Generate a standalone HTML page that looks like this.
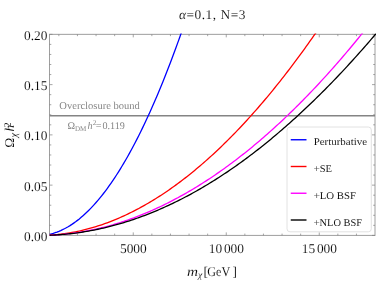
<!DOCTYPE html>
<html><head><meta charset="utf-8"><title>chart</title>
<style>html,body{margin:0;padding:0;background:#fff;overflow:hidden}body{width:376px;height:282px;position:relative;font-family:"Liberation Serif",serif}</style>
</head><body>
<svg width="376" height="282" viewBox="0 0 376 282" style="position:absolute;left:0;top:0;will-change:transform;opacity:0.999">
<defs><clipPath id="c"><rect x="49.50" y="33.55" width="326.50" height="202.35"/></clipPath></defs>
<rect width="376" height="282" fill="#fff"/>
<rect x="49.50" y="34.35" width="325.50" height="201.05" fill="none" stroke="#9e9e9e" stroke-width="1"/>
<path d="M58.85 235.40 v-1.80 M58.85 34.35 v1.80 M77.45 235.40 v-1.80 M77.45 34.35 v1.80 M96.05 235.40 v-1.80 M96.05 34.35 v1.80 M114.65 235.40 v-1.80 M114.65 34.35 v1.80 M133.25 235.40 v-3.00 M133.25 34.35 v3.00 M151.85 235.40 v-1.80 M151.85 34.35 v1.80 M170.45 235.40 v-1.80 M170.45 34.35 v1.80 M189.05 235.40 v-1.80 M189.05 34.35 v1.80 M207.65 235.40 v-1.80 M207.65 34.35 v1.80 M226.25 235.40 v-3.00 M226.25 34.35 v3.00 M244.85 235.40 v-1.80 M244.85 34.35 v1.80 M263.45 235.40 v-1.80 M263.45 34.35 v1.80 M282.05 235.40 v-1.80 M282.05 34.35 v1.80 M300.65 235.40 v-1.80 M300.65 34.35 v1.80 M319.25 235.40 v-3.00 M319.25 34.35 v3.00 M337.85 235.40 v-1.80 M337.85 34.35 v1.80 M356.45 235.40 v-1.80 M356.45 34.35 v1.80 M49.50 235.40 h3.00 M375.00 235.40 h-3.00 M49.50 225.35 h1.80 M375.00 225.35 h-1.80 M49.50 215.30 h1.80 M375.00 215.30 h-1.80 M49.50 205.24 h1.80 M375.00 205.24 h-1.80 M49.50 195.19 h1.80 M375.00 195.19 h-1.80 M49.50 185.14 h3.00 M375.00 185.14 h-3.00 M49.50 175.09 h1.80 M375.00 175.09 h-1.80 M49.50 165.03 h1.80 M375.00 165.03 h-1.80 M49.50 154.98 h1.80 M375.00 154.98 h-1.80 M49.50 144.93 h1.80 M375.00 144.93 h-1.80 M49.50 134.88 h3.00 M375.00 134.88 h-3.00 M49.50 124.82 h1.80 M375.00 124.82 h-1.80 M49.50 114.77 h1.80 M375.00 114.77 h-1.80 M49.50 104.72 h1.80 M375.00 104.72 h-1.80 M49.50 94.66 h1.80 M375.00 94.66 h-1.80 M49.50 84.61 h3.00 M375.00 84.61 h-3.00 M49.50 74.56 h1.80 M375.00 74.56 h-1.80 M49.50 64.51 h1.80 M375.00 64.51 h-1.80 M49.50 54.46 h1.80 M375.00 54.46 h-1.80 M49.50 44.40 h1.80 M375.00 44.40 h-1.80 M49.50 34.35 h3.00 M375.00 34.35 h-3.00" stroke="#808080" stroke-width="0.7" fill="none"/>
<g clip-path="url(#c)">
<line x1="49.50" x2="375.00" y1="115.80" y2="115.80" stroke="#848484" stroke-width="1.5"/>
<path d="M49.55 234.23 L51.41 233.78 L53.27 233.27 L55.13 232.69 L56.99 232.05 L58.85 231.33 L60.71 230.55 L62.57 229.69 L64.43 228.77 L66.29 227.78 L68.15 226.72 L70.01 225.59 L71.87 224.39 L73.73 223.12 L75.59 221.79 L77.45 220.38 L79.31 218.91 L81.17 217.37 L83.03 215.76 L84.89 214.08 L86.75 212.33 L88.61 210.51 L90.47 208.62 L92.33 206.67 L94.19 204.64 L96.05 202.55 L97.91 200.39 L99.77 198.16 L101.63 195.86 L103.49 193.49 L105.35 191.06 L107.21 188.55 L109.07 185.98 L110.93 183.34 L112.79 180.62 L114.65 177.84 L116.51 174.99 L118.37 172.08 L120.23 169.09 L122.09 166.03 L123.95 162.91 L125.81 159.72 L127.67 156.45 L129.53 153.12 L131.39 149.72 L133.25 146.25 L135.11 142.72 L136.97 139.11 L138.83 135.44 L140.69 131.69 L142.55 127.88 L144.41 124.00 L146.27 120.05 L148.13 116.03 L149.99 111.94 L151.85 107.79 L153.71 103.56 L155.57 99.27 L157.43 94.90 L159.29 90.47 L161.15 85.97 L163.01 81.40 L164.87 76.76 L166.73 72.06 L168.59 67.28 L170.45 62.44 L172.31 57.52 L174.17 52.54 L176.03 47.49 L177.89 42.37 L179.75 37.18 L181.61 31.93 L183.47 26.60 L185.33 21.20 L187.19 15.74 L189.05 10.21 L190.91 4.61 L192.77 -1.06 L194.63 -6.80 L196.49 -12.61 L198.35 -18.49 L200.21 -24.43 L202.07 -30.45 L203.93 -36.53 L205.79 -42.68 L207.65 -48.90 L209.51 -55.19 L211.37 -61.55 L213.23 -67.97 L215.09 -74.47 L216.95 -81.04 L218.81 -87.67 L220.67 -94.37 L222.53 -101.14 L224.39 -107.98 L226.25 -114.89 L228.11 -121.87 L229.97 -128.91 L231.83 -136.03 L233.69 -143.21 L235.55 -150.46 L237.41 -157.78 L239.27 -165.18 L241.13 -172.63 L242.99 -180.16 L244.85 -187.76 L246.71 -195.42 L248.57 -203.16 L250.43 -210.96 L252.29 -218.83 L254.15 -226.77 L256.01 -234.78 L257.87 -242.86 L259.73 -251.01 L261.59 -259.22 L263.45 -267.51 L265.31 -275.86 L267.17 -284.28 L269.03 -292.77 L270.89 -301.33 L272.75 -309.96 L274.61 -318.66 L276.47 -327.42 L278.33 -336.26 L280.19 -345.16 L282.05 -354.13 L283.91 -363.18 L285.77 -372.29 L287.63 -381.47 L289.49 -390.71 L291.35 -400.03 L293.21 -409.41 L295.07 -418.87 L296.93 -428.39 L298.79 -437.98 L300.65 -447.64 L302.51 -457.37 L304.37 -467.17 L306.23 -477.04 L308.09 -486.97 L309.95 -496.98 L311.81 -507.05 L313.67 -517.19 L315.53 -527.40 L317.39 -537.68 L319.25 -548.03 L321.11 -558.45 L322.97 -568.93 L324.83 -579.49 L326.69 -590.11 L328.55 -600.81 L330.41 -611.57 L332.27 -622.40 L334.13 -633.30 L335.99 -644.26 L337.85 -655.30 L339.71 -666.40 L341.57 -677.58 L343.43 -688.82 L345.29 -700.13 L347.15 -711.51 L349.01 -722.96 L350.87 -734.48 L352.73 -746.07 L354.59 -757.72 L356.45 -769.45 L358.31 -781.24 L360.17 -793.10 L362.03 -805.03 L363.89 -817.03 L365.75 -829.10 L367.61 -841.24 L369.47 -853.45 L371.33 -865.72 L373.19 -878.06 L375.05 -890.48 L376.91 -902.96 L378.77 -915.51 L380.63 -928.13" fill="none" stroke="#0000ff" stroke-width="1.3" stroke-linejoin="round"/>
<path d="M49.55 235.14 L51.41 235.02 L53.27 234.89 L55.13 234.74 L56.99 234.57 L58.85 234.38 L60.71 234.17 L62.57 233.94 L64.43 233.69 L66.29 233.42 L68.15 233.14 L70.01 232.83 L71.87 232.50 L73.73 232.16 L75.59 231.80 L77.45 231.42 L79.31 231.02 L81.17 230.60 L83.03 230.16 L84.89 229.70 L86.75 229.23 L88.61 228.74 L90.47 228.22 L92.33 227.69 L94.19 227.14 L96.05 226.58 L97.91 225.99 L99.77 225.38 L101.63 224.76 L103.49 224.12 L105.35 223.46 L107.21 222.78 L109.07 222.08 L110.93 221.37 L112.79 220.64 L114.65 219.88 L116.51 219.11 L118.37 218.32 L120.23 217.52 L122.09 216.69 L123.95 215.85 L125.81 214.99 L127.67 214.11 L129.53 213.21 L131.39 212.29 L133.25 211.36 L135.11 210.41 L136.97 209.44 L138.83 208.45 L140.69 207.44 L142.55 206.42 L144.41 205.37 L146.27 204.31 L148.13 203.23 L149.99 202.14 L151.85 201.02 L153.71 199.89 L155.57 198.74 L157.43 197.57 L159.29 196.38 L161.15 195.18 L163.01 193.95 L164.87 192.71 L166.73 191.45 L168.59 190.18 L170.45 188.88 L172.31 187.57 L174.17 186.24 L176.03 184.89 L177.89 183.52 L179.75 182.14 L181.61 180.73 L183.47 179.31 L185.33 177.88 L187.19 176.42 L189.05 174.95 L190.91 173.46 L192.77 171.95 L194.63 170.42 L196.49 168.87 L198.35 167.31 L200.21 165.73 L202.07 164.13 L203.93 162.52 L205.79 160.88 L207.65 159.23 L209.51 157.56 L211.37 155.87 L213.23 154.17 L215.09 152.45 L216.95 150.71 L218.81 148.95 L220.67 147.17 L222.53 145.38 L224.39 143.57 L226.25 141.74 L228.11 139.89 L229.97 138.03 L231.83 136.15 L233.69 134.25 L235.55 132.33 L237.41 130.40 L239.27 128.44 L241.13 126.47 L242.99 124.49 L244.85 122.48 L246.71 120.46 L248.57 118.42 L250.43 116.36 L252.29 114.28 L254.15 112.19 L256.01 110.08 L257.87 107.95 L259.73 105.80 L261.59 103.64 L263.45 101.46 L265.31 99.26 L267.17 97.05 L269.03 94.81 L270.89 92.56 L272.75 90.29 L274.61 88.00 L276.47 85.70 L278.33 83.38 L280.19 81.04 L282.05 78.68 L283.91 76.31 L285.77 73.92 L287.63 71.51 L289.49 69.08 L291.35 66.64 L293.21 64.18 L295.07 61.70 L296.93 59.20 L298.79 56.69 L300.65 54.16 L302.51 51.61 L304.37 49.04 L306.23 46.46 L308.09 43.86 L309.95 41.24 L311.81 38.60 L313.67 35.95 L315.53 33.28 L317.39 30.59 L319.25 27.89 L321.11 25.16 L322.97 22.42 L324.83 19.66 L326.69 16.89 L328.55 14.10 L330.41 11.29 L332.27 8.46 L334.13 5.61 L335.99 2.75 L337.85 -0.13 L339.71 -3.02 L341.57 -5.94 L343.43 -8.87 L345.29 -11.82 L347.15 -14.78 L349.01 -17.77 L350.87 -20.77 L352.73 -23.79 L354.59 -26.82 L356.45 -29.88 L358.31 -32.95 L360.17 -36.03 L362.03 -39.14 L363.89 -42.26 L365.75 -45.40 L367.61 -48.56 L369.47 -51.73 L371.33 -54.92 L373.19 -58.13 L375.05 -61.36 L376.91 -64.60 L378.77 -67.86 L380.63 -71.14" fill="none" stroke="#ff0000" stroke-width="1.3" stroke-linejoin="round"/>
<path d="M49.55 235.22 L51.41 235.14 L53.27 235.04 L55.13 234.93 L56.99 234.81 L58.85 234.68 L60.71 234.53 L62.57 234.36 L64.43 234.18 L66.29 233.99 L68.15 233.79 L70.01 233.57 L71.87 233.34 L73.73 233.09 L75.59 232.83 L77.45 232.55 L79.31 232.27 L81.17 231.96 L83.03 231.65 L84.89 231.32 L86.75 230.98 L88.61 230.62 L90.47 230.25 L92.33 229.87 L94.19 229.47 L96.05 229.06 L97.91 228.64 L99.77 228.20 L101.63 227.75 L103.49 227.28 L105.35 226.81 L107.21 226.31 L109.07 225.81 L110.93 225.29 L112.79 224.76 L114.65 224.21 L116.51 223.65 L118.37 223.08 L120.23 222.50 L122.09 221.90 L123.95 221.28 L125.81 220.66 L127.67 220.02 L129.53 219.36 L131.39 218.70 L133.25 218.02 L135.11 217.32 L136.97 216.62 L138.83 215.90 L140.69 215.16 L142.55 214.42 L144.41 213.66 L146.27 212.88 L148.13 212.10 L149.99 211.30 L151.85 210.48 L153.71 209.66 L155.57 208.82 L157.43 207.96 L159.29 207.10 L161.15 206.22 L163.01 205.32 L164.87 204.42 L166.73 203.50 L168.59 202.56 L170.45 201.62 L172.31 200.66 L174.17 199.68 L176.03 198.70 L177.89 197.70 L179.75 196.68 L181.61 195.66 L183.47 194.62 L185.33 193.57 L187.19 192.50 L189.05 191.42 L190.91 190.33 L192.77 189.22 L194.63 188.10 L196.49 186.97 L198.35 185.83 L200.21 184.67 L202.07 183.50 L203.93 182.31 L205.79 181.11 L207.65 179.90 L209.51 178.68 L211.37 177.44 L213.23 176.19 L215.09 174.92 L216.95 173.65 L218.81 172.36 L220.67 171.05 L222.53 169.74 L224.39 168.41 L226.25 167.06 L228.11 165.71 L229.97 164.34 L231.83 162.96 L233.69 161.56 L235.55 160.15 L237.41 158.73 L239.27 157.29 L241.13 155.85 L242.99 154.38 L244.85 152.91 L246.71 151.42 L248.57 149.92 L250.43 148.41 L252.29 146.88 L254.15 145.34 L256.01 143.79 L257.87 142.22 L259.73 140.64 L261.59 139.05 L263.45 137.44 L265.31 135.82 L267.17 134.19 L269.03 132.55 L270.89 130.89 L272.75 129.22 L274.61 127.53 L276.47 125.84 L278.33 124.13 L280.19 122.40 L282.05 120.67 L283.91 118.92 L285.77 117.15 L287.63 115.38 L289.49 113.59 L291.35 111.79 L293.21 109.97 L295.07 108.15 L296.93 106.30 L298.79 104.45 L300.65 102.58 L302.51 100.70 L304.37 98.81 L306.23 96.90 L308.09 94.98 L309.95 93.05 L311.81 91.11 L313.67 89.15 L315.53 87.18 L317.39 85.19 L319.25 83.19 L321.11 81.18 L322.97 79.16 L324.83 77.12 L326.69 75.07 L328.55 73.01 L330.41 70.94 L332.27 68.85 L334.13 66.74 L335.99 64.63 L337.85 62.50 L339.71 60.36 L341.57 58.21 L343.43 56.04 L345.29 53.86 L347.15 51.67 L349.01 49.46 L350.87 47.24 L352.73 45.01 L354.59 42.77 L356.45 40.51 L358.31 38.24 L360.17 35.96 L362.03 33.66 L363.89 31.35 L365.75 29.03 L367.61 26.69 L369.47 24.34 L371.33 21.98 L373.19 19.61 L375.05 17.22 L376.91 14.82 L378.77 12.41 L380.63 9.98" fill="none" stroke="#ff00ff" stroke-width="1.3" stroke-linejoin="round"/>
<path d="M49.55 235.24 L51.41 235.16 L53.27 235.08 L55.13 234.98 L56.99 234.87 L58.85 234.75 L60.71 234.61 L62.57 234.47 L64.43 234.31 L66.29 234.13 L68.15 233.95 L70.01 233.75 L71.87 233.54 L73.73 233.31 L75.59 233.08 L77.45 232.83 L79.31 232.56 L81.17 232.29 L83.03 232.00 L84.89 231.70 L86.75 231.39 L88.61 231.07 L90.47 230.73 L92.33 230.38 L94.19 230.02 L96.05 229.64 L97.91 229.26 L99.77 228.86 L101.63 228.45 L103.49 228.02 L105.35 227.58 L107.21 227.13 L109.07 226.67 L110.93 226.20 L112.79 225.71 L114.65 225.21 L116.51 224.70 L118.37 224.18 L120.23 223.64 L122.09 223.09 L123.95 222.53 L125.81 221.95 L127.67 221.37 L129.53 220.77 L131.39 220.16 L133.25 219.53 L135.11 218.90 L136.97 218.25 L138.83 217.59 L140.69 216.91 L142.55 216.23 L144.41 215.53 L146.27 214.82 L148.13 214.10 L149.99 213.36 L151.85 212.61 L153.71 211.85 L155.57 211.08 L157.43 210.30 L159.29 209.50 L161.15 208.69 L163.01 207.87 L164.87 207.03 L166.73 206.19 L168.59 205.33 L170.45 204.46 L172.31 203.57 L174.17 202.68 L176.03 201.77 L177.89 200.85 L179.75 199.92 L181.61 198.97 L183.47 198.01 L185.33 197.04 L187.19 196.06 L189.05 195.07 L190.91 194.06 L192.77 193.04 L194.63 192.01 L196.49 190.97 L198.35 189.91 L200.21 188.84 L202.07 187.76 L203.93 186.67 L205.79 185.56 L207.65 184.44 L209.51 183.31 L211.37 182.17 L213.23 181.02 L215.09 179.85 L216.95 178.67 L218.81 177.48 L220.67 176.28 L222.53 175.06 L224.39 173.83 L226.25 172.59 L228.11 171.34 L229.97 170.07 L231.83 168.79 L233.69 167.51 L235.55 166.20 L237.41 164.89 L239.27 163.56 L241.13 162.22 L242.99 160.87 L244.85 159.51 L246.71 158.13 L248.57 156.75 L250.43 155.35 L252.29 153.93 L254.15 152.51 L256.01 151.07 L257.87 149.62 L259.73 148.16 L261.59 146.69 L263.45 145.20 L265.31 143.70 L267.17 142.19 L269.03 140.67 L270.89 139.14 L272.75 137.59 L274.61 136.03 L276.47 134.46 L278.33 132.87 L280.19 131.28 L282.05 129.67 L283.91 128.06 L285.77 126.44 L287.63 124.81 L289.49 123.16 L291.35 121.51 L293.21 119.84 L295.07 118.16 L296.93 116.47 L298.79 114.76 L300.65 113.05 L302.51 111.32 L304.37 109.58 L306.23 107.83 L308.09 106.07 L309.95 104.29 L311.81 102.51 L313.67 100.71 L315.53 98.90 L317.39 97.08 L319.25 95.24 L321.11 93.40 L322.97 91.54 L324.83 89.67 L326.69 87.79 L328.55 85.90 L330.41 84.00 L332.27 82.08 L334.13 80.15 L335.99 78.21 L337.85 76.26 L339.71 74.30 L341.57 72.33 L343.43 70.34 L345.29 68.34 L347.15 66.33 L349.01 64.31 L350.87 62.28 L352.73 60.24 L354.59 58.18 L356.45 56.11 L358.31 54.03 L360.17 51.94 L362.03 49.84 L363.89 47.72 L365.75 45.60 L367.61 43.46 L369.47 41.31 L371.33 39.15 L373.19 36.98 L375.05 34.79 L376.91 32.60 L378.77 30.39 L380.63 28.17" fill="none" stroke="#000000" stroke-width="1.3" stroke-linejoin="round"/>
</g>
<text class="yt" x="47.4" y="240.80" font-family="Liberation Serif, serif" text-rendering="geometricPrecision" stroke="#fff" stroke-width="0.12" paint-order="fill" font-size="13.4" text-anchor="end" fill="#000">0.00</text>
<text class="yt" x="47.4" y="190.54" font-family="Liberation Serif, serif" text-rendering="geometricPrecision" stroke="#fff" stroke-width="0.12" paint-order="fill" font-size="13.4" text-anchor="end" fill="#000">0.05</text>
<text class="yt" x="47.4" y="140.28" font-family="Liberation Serif, serif" text-rendering="geometricPrecision" stroke="#fff" stroke-width="0.12" paint-order="fill" font-size="13.4" text-anchor="end" fill="#000">0.10</text>
<text class="yt" x="47.4" y="90.01" font-family="Liberation Serif, serif" text-rendering="geometricPrecision" stroke="#fff" stroke-width="0.12" paint-order="fill" font-size="13.4" text-anchor="end" fill="#000">0.15</text>
<text class="yt" x="47.4" y="39.75" font-family="Liberation Serif, serif" text-rendering="geometricPrecision" stroke="#fff" stroke-width="0.12" paint-order="fill" font-size="13.4" text-anchor="end" fill="#000">0.20</text>
<text class="xt" x="133.35" y="252.5" font-family="Liberation Serif, serif" text-rendering="geometricPrecision" stroke="#fff" stroke-width="0.12" paint-order="fill" font-size="13.4" text-anchor="middle" fill="#000">5000</text>
<text class="xt" x="226.35" y="252.5" font-family="Liberation Serif, serif" text-rendering="geometricPrecision" stroke="#fff" stroke-width="0.12" paint-order="fill" font-size="13.4" text-anchor="middle" fill="#000">10<tspan dx="1.8">000</tspan></text>
<text class="xt" x="319.35" y="252.5" font-family="Liberation Serif, serif" text-rendering="geometricPrecision" stroke="#fff" stroke-width="0.12" paint-order="fill" font-size="13.4" text-anchor="middle" fill="#000">15<tspan dx="1.8">000</tspan></text>
<text id="title" x="212.2" y="18.7" font-family="Liberation Serif, serif" text-rendering="geometricPrecision" stroke="#fff" stroke-width="0.12" paint-order="fill" font-size="13.4" text-anchor="middle" fill="#000" textLength="66.6"><tspan font-style="italic">α</tspan>=0.1, N=3</text>
<text x="186.9" y="276" font-family="Liberation Serif, serif" text-rendering="geometricPrecision" stroke="#fff" stroke-width="0.12" paint-order="fill" font-size="13.4" font-style="italic" fill="#000" textLength="11" lengthAdjust="spacingAndGlyphs">m</text>
<text x="197.9" y="278.3" font-family="Liberation Serif, serif" text-rendering="geometricPrecision" stroke="#fff" stroke-width="0.12" paint-order="fill" font-size="9.6" font-style="italic" fill="#000">χ</text>
<text x="203.4" y="276" font-family="Liberation Serif, serif" text-rendering="geometricPrecision" stroke="#fff" stroke-width="0.12" paint-order="fill" font-size="13.4" fill="#000">[</text>
<text x="207.2" y="276" font-family="Liberation Serif, serif" text-rendering="geometricPrecision" stroke="#fff" stroke-width="0.12" paint-order="fill" font-size="13.4" fill="#000" textLength="23" lengthAdjust="spacingAndGlyphs">GeV</text>
<text x="232.6" y="276" font-family="Liberation Serif, serif" text-rendering="geometricPrecision" stroke="#fff" stroke-width="0.12" paint-order="fill" font-size="13.4" fill="#000">]</text>
<text transform="translate(13.70,147.70) rotate(-90)" font-family="Liberation Serif, serif" text-rendering="geometricPrecision" stroke="#fff" stroke-width="0.12" paint-order="fill" font-size="13.4" fill="#000" >Ω</text>
<text transform="translate(16.90,137.40) rotate(-90)" font-family="Liberation Serif, serif" text-rendering="geometricPrecision" stroke="#fff" stroke-width="0.12" paint-order="fill" font-size="10.4" fill="#000" font-style="italic">χ</text>
<text transform="translate(13.70,131.40) rotate(-90)" font-family="Liberation Serif, serif" text-rendering="geometricPrecision" stroke="#fff" stroke-width="0.12" paint-order="fill" font-size="13.4" fill="#000" font-style="italic">h</text>
<text transform="translate(10.50,127.50) rotate(-90)" font-family="Liberation Serif, serif" text-rendering="geometricPrecision" stroke="#fff" stroke-width="0.12" paint-order="fill" font-size="10.3" fill="#000" >2</text>
<text id="ob" x="59.3" y="109" font-family="Liberation Serif, serif" text-rendering="geometricPrecision" font-size="10.6" fill="#868686" textLength="80.6" lengthAdjust="spacingAndGlyphs">Overclosure bound</text>
<text x="67.5" y="129" font-family="Liberation Serif, serif" text-rendering="geometricPrecision" font-size="10.2" fill="#868686">Ω</text>
<text x="74.9" y="130.6" font-family="Liberation Serif, serif" text-rendering="geometricPrecision" font-size="7.2" fill="#868686" textLength="11.4" lengthAdjust="spacingAndGlyphs">DM</text>
<text x="87.5" y="129" font-family="Liberation Serif, serif" text-rendering="geometricPrecision" font-size="10.2" font-style="italic" fill="#868686">h</text>
<text x="92.7" y="125.3" font-family="Liberation Serif, serif" text-rendering="geometricPrecision" font-size="7.2" fill="#868686">2</text>
<text x="95.8" y="129" font-family="Liberation Serif, serif" text-rendering="geometricPrecision" font-size="10.2" fill="#868686">=</text>
<text x="102.5" y="129" font-family="Liberation Serif, serif" text-rendering="geometricPrecision" font-size="10.2" fill="#868686" textLength="22.4" lengthAdjust="spacingAndGlyphs">0.119</text>
<rect x="287" y="127.0" width="84.3" height="104.8" rx="3" ry="3" fill="#fff" stroke="#e2e2e2" stroke-width="1"/>
<line x1="290.75" x2="306.5" y1="139.75" y2="139.75" stroke="#0000ff" stroke-width="1.4"/>
<text class="lg" x="313.7" y="144.90" font-family="Liberation Serif, serif" text-rendering="geometricPrecision" stroke="#fff" stroke-width="0.06" paint-order="fill" font-size="10.2" fill="#000" textLength="53.3" lengthAdjust="spacingAndGlyphs">Perturbative</text>
<line x1="290.75" x2="306.5" y1="166.50" y2="166.50" stroke="#ff0000" stroke-width="1.4"/>
<text class="lg" x="313.7" y="171.90" font-family="Liberation Serif, serif" text-rendering="geometricPrecision" stroke="#fff" stroke-width="0.06" paint-order="fill" font-size="10.2" fill="#000" textLength="18.3" lengthAdjust="spacingAndGlyphs">+SE</text>
<line x1="290.75" x2="306.5" y1="193.25" y2="193.25" stroke="#ff00ff" stroke-width="1.4"/>
<text class="lg" x="313.7" y="198.90" font-family="Liberation Serif, serif" text-rendering="geometricPrecision" stroke="#fff" stroke-width="0.06" paint-order="fill" font-size="10.2" fill="#000" textLength="42.4" lengthAdjust="spacingAndGlyphs">+LO BSF</text>
<line x1="290.75" x2="306.5" y1="220.00" y2="220.00" stroke="#000000" stroke-width="1.4"/>
<text class="lg" x="313.7" y="225.90" font-family="Liberation Serif, serif" text-rendering="geometricPrecision" stroke="#fff" stroke-width="0.06" paint-order="fill" font-size="10.2" fill="#000" textLength="48.4" lengthAdjust="spacingAndGlyphs">+NLO BSF</text>
</svg>
</body></html>
